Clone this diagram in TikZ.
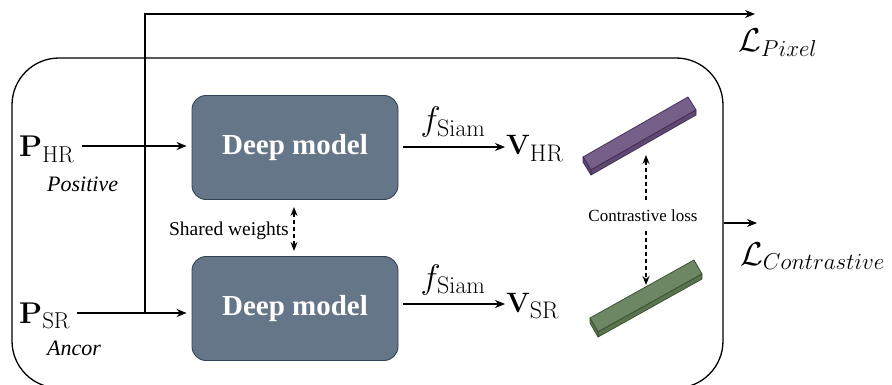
\RequirePackage{fix-cm}
\documentclass[tikz,border=0pt]{standalone}
\usepackage[no-math]{fontspec}
\setmainfont{Liberation Serif}
\usetikzlibrary{arrows.meta}
\DeclareMathSizes{30}{30}{23}{16}
\DeclareMathSizes{28}{28}{24}{17}
\DeclareMathSizes{34}{34}{24}{17}
\DeclareMathSizes{33}{33}{23}{16}
\definecolor{dmfill}{HTML}{647687}
\definecolor{dmline}{HTML}{314354}
\definecolor{purtop}{HTML}{76608A}
\definecolor{purfront}{HTML}{5E4A70}
\definecolor{purline}{HTML}{432D57}
\definecolor{grntop}{HTML}{6D8764}
\definecolor{grnfront}{HTML}{5A7351}
\definecolor{grnline}{HTML}{3A5431}
\tikzset{
  dm/.style={draw=dmline, line width=0.9pt, fill=dmfill, rounded corners=14pt,
    minimum width=206pt, minimum height=104pt, inner sep=0pt, text=white,
    font=\fontsize{29}{34}\selectfont\bfseries},
  arr/.style={line width=1.3pt, -{Stealth[length=10pt,width=8pt]}},
  darr/.style={line width=1.2pt, dash pattern=on 4pt off 3pt,
    {Stealth[length=9pt,width=7pt]}-{Stealth[length=9pt,width=7pt]}},
  lbl/.style={inner sep=0pt, anchor=base west},
  big/.style={font=\fontsize{30}{36}\selectfont},
  mid/.style={font=\fontsize{28}{33}\selectfont},
  sia/.style={font=\fontsize{34}{40}\selectfont},
  los/.style={font=\fontsize{33}{40}\selectfont},
  itl/.style={font=\fontsize{22}{26}\selectfont\itshape},
}
\begin{document}
\begin{tikzpicture}[x=1pt,y=-1pt]
\useasboundingbox (0,0) rectangle (892,385);

% outer container
\node[draw, line width=1.3pt, rounded corners=47pt, minimum width=711pt,
  minimum height=330pt, inner sep=0pt] (box) at (367.5,223) {};

% deep models
\node[dm] (dm1) at (295,147.5) {Deep model};
\node[dm] (dm2) at (295,308.5) {Deep model};

% inputs
\node[lbl, big] (phr) at (19,157) {$\mathbf{P}_{\mathrm{HR}}$};
\node[lbl, itl] (pos) at (47,192) {Positive};
\node[lbl, big] (psr) at (19,323) {$\mathbf{P}_{\mathrm{SR}}$};
\node[lbl, itl] (anc) at (47,355) {Ancor};

\coordinate (yhr) at (0,146);
\coordinate (ysr) at (0,313);
\draw[arr] ([xshift=7pt]phr.east |- yhr) -- ([xshift=-5pt]dm1.west |- yhr);
\draw[arr] ([xshift=7pt]psr.east |- ysr) -- ([xshift=-5pt]dm2.west |- ysr);

% pixel loss line
\coordinate (tap) at (145,313);
\coordinate (tapr) at (156,313);
\coordinate (ptop) at (145,14);
\coordinate (pend) at (755,14);
\draw[arr] (tapr) -- (tap) -- (ptop) -- (pend);
\node[lbl, los] (lpix) at (738,52) {$\mathcal{L}_{Pixel}$};

% shared weights
\coordinate (sw1) at (294,207);
\coordinate (sw2) at (294,251);
\draw[darr] (sw1) -- (sw2);
\node[anchor=east, inner sep=0pt, font=\fontsize{19.5}{23}\selectfont] (sw) at (289,231) {Shared weights};

% outputs
\node[lbl, mid] (vhr) at (506,155) {$\mathbf{V}_{\mathrm{HR}}$};
\node[lbl, mid] (vsr) at (506,312) {$\mathbf{V}_{\mathrm{SR}}$};
\coordinate (yv1) at (0,147);
\coordinate (yv2) at (0,304);
\draw[arr] ([xshift=5pt]dm1.east |- yv1) -- ([xshift=-1pt]vhr.west |- yv1);
\draw[arr] ([xshift=5pt]dm2.east |- yv2) -- ([xshift=-1pt]vsr.west |- yv2);
\node[anchor=base, inner sep=0pt, sia] (f1) at (453,131) {$f_{\mathrm{Siam}}$};
\node[anchor=base, inner sep=0pt, sia] (f2) at (453,288) {$f_{\mathrm{Siam}}$};

% purple bar
\draw[purline, line width=0.8pt, line join=round, fill=purtop]
  (583,157) -- (688,97) -- (696,110) -- (591,170) -- cycle;
\draw[purline, line width=0.8pt, line join=round, fill=purfront]
  (591,170) -- (696,110) -- (696,115) -- (591,175) -- cycle;
\draw[purline, line width=0.8pt, line join=round, fill=purfront]
  (583,157) -- (591,170) -- (591,175) -- (583,162) -- cycle;

% green bar
\draw[grnline, line width=0.8pt, line join=round, fill=grntop]
  (590,318) -- (694,260) -- (702,274) -- (598,332) -- cycle;
\draw[grnline, line width=0.8pt, line join=round, fill=grnfront]
  (598,332) -- (702,274) -- (702,279) -- (598,337) -- cycle;
\draw[grnline, line width=0.8pt, line join=round, fill=grnfront]
  (590,318) -- (598,332) -- (598,337) -- (590,323) -- cycle;

% contrastive loss
\coordinate (c1) at (646,155);
\coordinate (c2) at (646,285);
\draw[darr] (c1) -- (c2);
\node[fill=white, inner xsep=1pt, inner ysep=7pt, font=\fontsize{17}{20}\selectfont] (cl) at (643,216) {Contrastive loss};

\coordinate (lcend) at (757,223);
\draw[arr] (box.east) -- (lcend);
\node[lbl, los] (lcon) at (740,265) {$\mathcal{L}_{Contrastive}$};
\end{tikzpicture}
\end{document}
